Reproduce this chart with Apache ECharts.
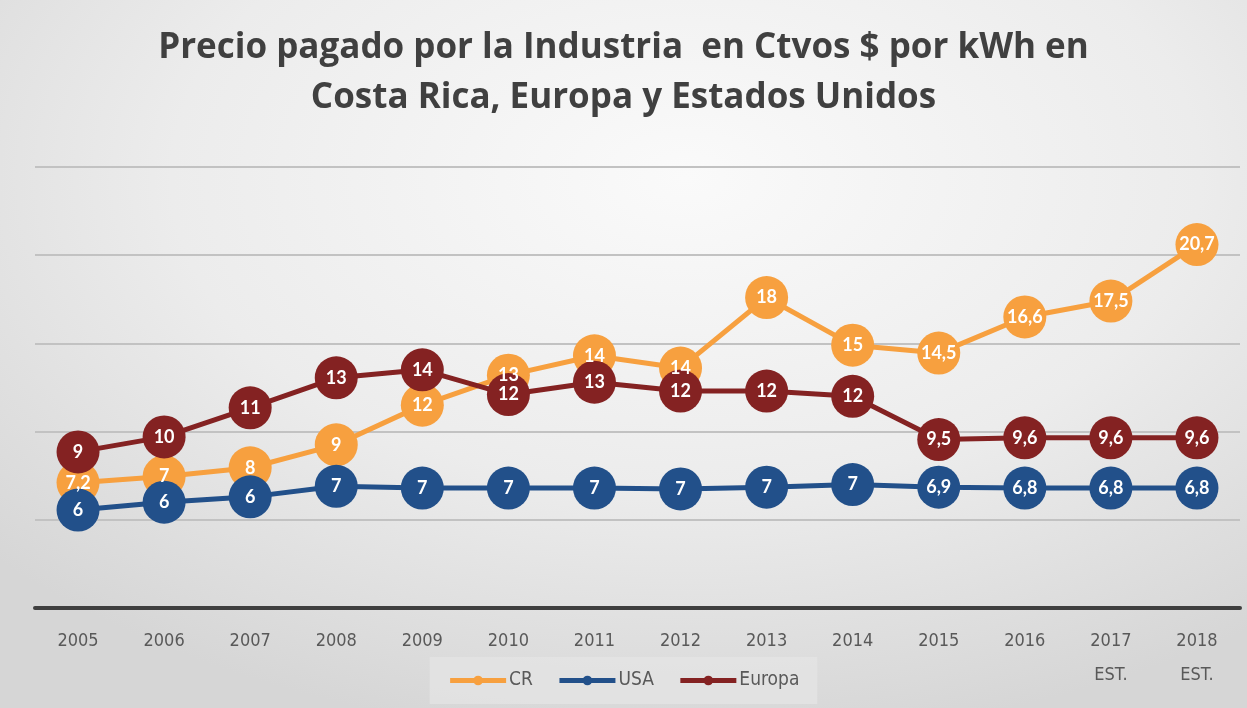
<!DOCTYPE html>
<html>
<head>
<meta charset="utf-8">
<script src="https://cdn.jsdelivr.net/npm/echarts@6/dist/echarts.min.js"></script>
<style>
  html, body { margin: 0; padding: 0; }
  body {
    width: 1247px; height: 708px; overflow: hidden;
    background: radial-gradient(ellipse 75% 80% at 55% 25%, #fafafa 0%, #ececec 55%, #d6d6d6 100%);
  }
  #chart { width: 1247px; height: 708px; }
</style>
</head>
<body>
<div id="chart"></div>
<script>
// Categories
const years = ['2005','2006','2007','2008','2009','2010','2011','2012','2013','2014','2015','2016','2017\nEST.','2018\nEST.'];

// Values
const crValues     = [7.1, 7.45, 7.95, 9.25, 11.5, 13.2, 14.3, 13.6, 17.6, 14.9, 14.45, 16.5, 17.4, 20.6];
const usaValues    = [5.55, 6.0, 6.3, 6.9, 6.8, 6.8, 6.8, 6.75, 6.85, 7.0, 6.85, 6.8, 6.8, 6.8];
const europaValues = [8.85, 9.7, 11.35, 13.05, 13.5, 12.1, 12.8, 12.3, 12.3, 12.0, 9.55, 9.65, 9.65, 9.65];

// Label texts as printed in the chart
const crLabels     = ['7,2','7','8','9','12','13','14','14','18','15','14,5','16,6','17,5','20,7'];
const usaLabels    = ['6','6','6','7','7','7','7','7','7','7','6,9','6,8','6,8','6,8'];
const europaLabels = ['9','10','11','13','14','12','13','12','12','12','9,5','9,6','9,6','9,6'];

// Y axis ticks
const yMin = 0, yMax = 25, yInterval = 5;

const titleText = 'Precio pagado por la Industria  en Ctvos $ por kWh en\nCosta Rica, Europa y Estados Unidos';
const seriesNames = ['CR', 'USA', 'Europa'];
const colors = ['#f7a03f', '#22508a', '#842222'];

const narrow = '"Liberation Sans Narrow", "DejaVu Sans Condensed", "Roboto Condensed", sans-serif';

const chart = echarts.init(document.getElementById('chart'), null, { renderer: 'canvas' });

function mkSeries(name, values, labels, color) {
  return {
    name: name,
    type: 'line',
    data: values,
    symbol: 'circle',
    symbolSize: 43,
    showAllSymbol: true,
    lineStyle: { color: color, width: 5 },
    itemStyle: { color: color, borderColor: color, borderWidth: 0, opacity: 1 },
    label: {
      show: true,
      position: 'inside',
      formatter: function (p) { return labels[p.dataIndex]; },
      color: '#ffffff',
      fontFamily: 'Lato, "Open Sans", sans-serif',
      fontWeight: 'bold',
      fontSize: 18
    },
    emphasis: { disabled: true },
    animation: false
  };
}

chart.setOption({
  backgroundColor: 'transparent',
  animation: false,
  title: {
    text: titleText,
    left: 'center',
    top: 18,
    textStyle: {
      fontFamily: '"Open Sans", Lato, sans-serif',
      fontWeight: 'bold',
      fontSize: 35,
      lineHeight: 50,
      color: '#404040'
    }
  },
  legend: {
    data: seriesNames,
    bottom: 4,
    left: 'center',
    itemWidth: 56,
    itemHeight: 12,
    itemGap: 24,
    padding: [14, 18, 14, 18],
    backgroundColor: 'rgba(228,228,228,0.75)',
    lineStyle: { width: 5 },
    textStyle: {
      fontFamily: narrow,
      fontSize: 19,
      color: '#595959',
      padding: [0, 0, 0, -2]
    }
  },
  grid: {
    left: 35,
    right: 7,
    top: 167,
    bottom: 100,
    containLabel: false
  },
  xAxis: {
    type: 'category',
    data: years,
    boundaryGap: true,
    axisLine: { show: true, lineStyle: { color: '#3f3f3f', width: 4 } },
    axisTick: { show: false },
    axisLabel: {
      interval: 0,
      margin: 16,
      color: '#595959',
      fontFamily: narrow,
      fontSize: 18,
      lineHeight: 34
    }
  },
  yAxis: {
    type: 'value',
    min: yMin,
    max: yMax,
    interval: yInterval,
    axisLine: { show: false },
    axisTick: { show: false },
    axisLabel: { show: false },
    splitLine: { show: true, lineStyle: { color: '#c2c2c2', width: 2 } }
  },
  series: [
    mkSeries(seriesNames[0], crValues, crLabels, colors[0]),
    mkSeries(seriesNames[1], usaValues, usaLabels, colors[1]),
    mkSeries(seriesNames[2], europaValues, europaLabels, colors[2])
  ]
});
</script>
</body>
</html>
